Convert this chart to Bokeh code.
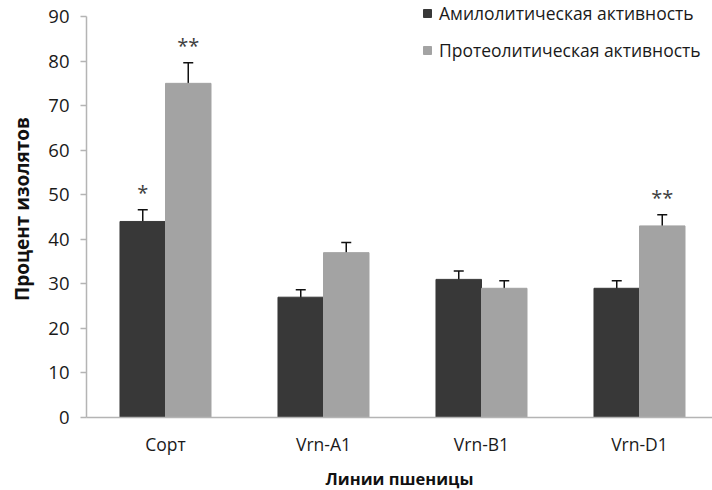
from bokeh.plotting import figure
from bokeh.models import (ColumnDataSource, Range1d, FixedTicker, Whisker, TeeHead,
                          Legend, LegendItem)
from bokeh.core.properties import value
from bokeh.embed import file_html
from bokeh.resources import INLINE

categories = ["Сорт", "Vrn-A1", "Vrn-B1", "Vrn-D1"]
amylo = [44, 27, 31, 29]
amylo_err = [2.6, 1.7, 1.9, 1.7]
proteo = [75, 37, 29, 43]
proteo_err = [4.6, 2.3, 1.7, 2.5]
sig_amylo = ["*", "", "", ""]
sig_proteo = ["**", "", "", "**"]
y_ticks = [0, 10, 20, 30, 40, 50, 60, 70, 80, 90]

FONT = "Open Sans"
DARK = "#383838"
LIGHT = "#a3a3a3"
AXIS = "#b4b4b4"

centers = [i + 0.5 for i in range(len(categories))]
bw = 0.288
xd = [c - bw / 2 for c in centers]
xl = [c + bw / 2 for c in centers]

src_a = ColumnDataSource(dict(x=xd, top=amylo, lo=[v - e for v, e in zip(amylo, amylo_err)],
                              hi=[v + e for v, e in zip(amylo, amylo_err)], sig=sig_amylo))
src_p = ColumnDataSource(dict(x=xl, top=proteo, lo=[v - e for v, e in zip(proteo, proteo_err)],
                              hi=[v + e for v, e in zip(proteo, proteo_err)], sig=sig_proteo))

# frame extends 16px above the 90 tick so the legend is not clipped
y_top = 90 * 417 / 401
p = figure(frame_width=626, frame_height=417, output_backend="svg", toolbar_location=None,
           x_range=Range1d(0, 626 / 158), y_range=Range1d(0, y_top),
           min_border_left=86, min_border_right=0, min_border_top=0, min_border_bottom=0)
p.outline_line_color = None
p.grid.grid_line_color = None
p.background_fill_color = "white"

ra = p.vbar(x="x", top="top", width=bw, bottom=0, source=src_a, fill_color=DARK, line_color=DARK)
rp = p.vbar(x="x", top="top", width=bw, bottom=0, source=src_p, fill_color=LIGHT, line_color=LIGHT)

for src in (src_a, src_p):
    w = Whisker(base="x", lower="lo", upper="hi", source=src, line_color="#111111", line_width=1.5,
                upper_head=TeeHead(size=10, line_color="#111111", line_width=1.5),
                lower_head=TeeHead(size=10, line_color="#111111", line_width=1.5))
    p.add_layout(w)
    p.text(x="x", y="hi", text="sig", source=src, text_font=value(FONT), text_font_size="20px",
           text_color="#404040", text_align="center", text_baseline="middle", y_offset=-17)

# axes
p.yaxis.ticker = FixedTicker(ticks=y_ticks)
p.yaxis.bounds = (0, 90)
p.yaxis.axis_line_color = AXIS
p.yaxis.axis_line_width = 1.5
p.yaxis.major_tick_line_color = AXIS
p.yaxis.major_tick_line_width = 1.5
p.yaxis.major_tick_out = 6
p.yaxis.major_tick_in = 0
p.yaxis.minor_tick_line_color = None
p.yaxis.major_label_text_font = FONT
p.yaxis.major_label_text_font_size = "18.5px"
p.yaxis.major_label_text_color = "#1a1a1a"
p.yaxis.major_label_standoff = 11
p.yaxis.axis_label = "Процент изолятов"
p.yaxis.axis_label_text_font = FONT
p.yaxis.axis_label_text_font_style = "bold"
p.yaxis.axis_label_text_font_size = "19px"
p.yaxis.axis_label_text_color = "#111111"
p.yaxis.axis_label_standoff = 10

p.xaxis.ticker = FixedTicker(ticks=centers)
p.xaxis.major_label_overrides = {c: n for c, n in zip(centers, categories)}
p.xaxis.axis_line_color = AXIS
p.xaxis.axis_line_width = 1.5
p.xaxis.major_tick_line_color = None
p.xaxis.major_tick_out = 0
p.xaxis.major_tick_in = 0
p.xaxis.minor_tick_line_color = None
p.xaxis.major_label_text_font = FONT
p.xaxis.major_label_text_font_size = "17.5px"
p.xaxis.major_label_text_color = "#1a1a1a"
p.xaxis.major_label_standoff = 14
p.xaxis.axis_label = "Линии пшеницы"
p.xaxis.axis_label_text_font = FONT
p.xaxis.axis_label_text_font_style = "bold"
p.xaxis.axis_label_text_font_size = "16.5px"
p.xaxis.axis_label_text_color = "#111111"
p.xaxis.axis_label_standoff = 8

legend = Legend(items=[LegendItem(label="Амилолитическая активность", renderers=[ra]),
                       LegendItem(label="Протеолитическая активность", renderers=[rp])],
                location=(336, 355), orientation="vertical",
                glyph_width=10, glyph_height=10, label_height=20, spacing=13,
                padding=0, margin=0, label_standoff=7,
                label_text_font=FONT, label_text_font_size="17.5px", label_text_color="#1a1a1a",
                border_line_color=None, background_fill_alpha=0)
p.add_layout(legend, "center")

open("out.html", "w").write(file_html(p, INLINE))
